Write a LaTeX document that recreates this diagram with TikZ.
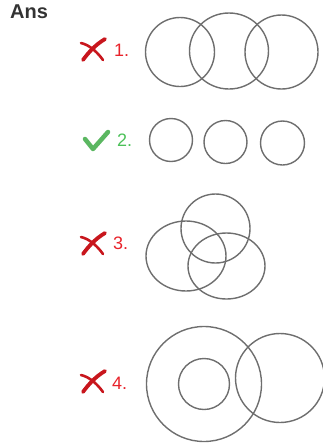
\documentclass[tikz,border=0pt]{standalone}
\usepackage{fontspec}
\setmainfont{Liberation Sans}
\definecolor{wrongred}{HTML}{E8232B}
\definecolor{crossred}{HTML}{C8161D}
\definecolor{rightgreen}{HTML}{4CC159}
\definecolor{tickgreen}{HTML}{5BB761}
\definecolor{ringgray}{HTML}{6E6E6E}

\begin{document}
\begin{tikzpicture}[x=1pt,y=-1pt,
    ring/.style={draw=ringgray, line width=1.4pt},
    numlabel/.style={font=\fontsize{18}{18}\selectfont, anchor=west, inner sep=0pt},
    crossmark/.style={crossred, line cap=round}]

      \useasboundingbox (0,0) rectangle (323,445);

      % Heading
      \node[font=\bfseries\fontsize{20}{20}\selectfont, anchor=north west, inner sep=0pt,
            text=black!80] (ans) at (10,5) {Ans};

      % Labels
      \node[numlabel, text=wrongred]   (lab1) at (114,50)  {1.};
      \node[numlabel, text=rightgreen] (lab2) at (117,140) {2.};
      \node[numlabel, text=wrongred]   (lab3) at (113,243) {3.};
      \node[numlabel, text=wrongred]   (lab4) at (112,383) {4.};

      % Crosses
      \foreach \y in {50,244,382}
      {
          \draw[crossmark, line width=3.8pt] (105,\y-11) .. controls (95,\y-5) and (88,\y+3) .. (83,\y+10);
          \draw[crossmark, line width=2.6pt] (81,\y-7) .. controls (90,\y-5) and (98,\y+3) .. (103,\y+10);
      }

      % Tick
      \draw[tickgreen, line width=4.5pt, line cap=round, line join=round]
          (85,139) -- (93,149) -- (108,132);

      % 1.
      \draw[ring] (180,52) circle (34.5);
      \draw[ring] (229,51) ellipse (39.5 and 38);
      \draw[ring] (281.5,52) ellipse (36.5 and 37);

      % 2.
      \draw[ring] (171,140) circle (21.5);
      \draw[ring] (225.5,142) circle (21.5);
      \draw[ring] (282.5,143) circle (22);

      % 3.
      \draw[ring] (215.5,228.5) circle (34.5);
      \draw[ring] (186,256) ellipse (40 and 35);
      \draw[ring] (226.5,266) ellipse (38.5 and 33);

      % 4.
      \draw[ring] (204,384) circle (57.5);
      \draw[ring] (204,384) circle (25.5);
      \draw[ring] (280,378) circle (44.5);

\end{tikzpicture}
\end{document}
